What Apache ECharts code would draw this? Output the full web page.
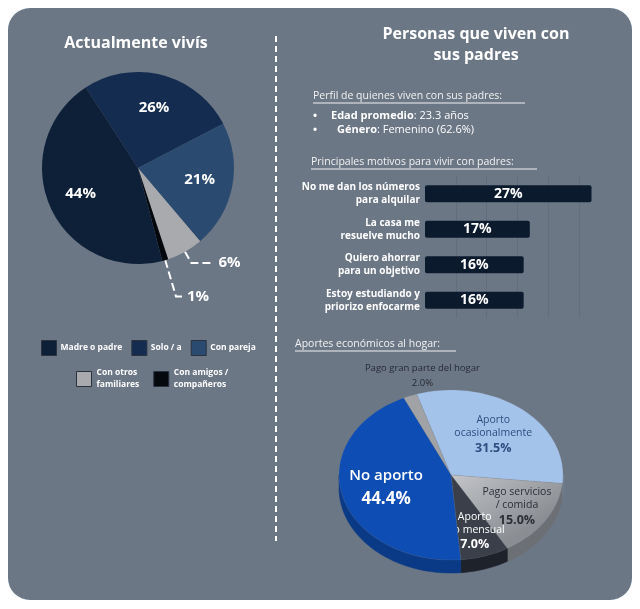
<!DOCTYPE html>
<html><head><meta charset="utf-8">
<script src="https://cdn.jsdelivr.net/npm/echarts@6/dist/echarts.min.js"></script>
<style>html,body{margin:0;padding:0;background:#ffffff}#c{width:640px;height:609px}</style>
</head><body><div id="c"></div>
<script>
// ---------- DATA ----------
const livingNames = ['Solo / a', 'Con pareja', 'Con otros familiares', 'Con amigos / compañeros', 'Madre o padre'];
const livingValues = [26, 21, 6, 1, 44];
const legendRow1 = ['Madre o padre', 'Solo / a', 'Con pareja'];
const legendRow2 = ['Con otros familiares', 'Con amigos / compañeros'];
const legendRow2Text = ['Con otros\nfamiliares', 'Con amigos /\ncompañeros'];

const reasonLabels = ['No me dan los números\npara alquilar', 'La casa me\nresuelve mucho', 'Quiero ahorrar\npara un objetivo', 'Estoy estudiando y\npriorizo enfocarme'];
const reasonValues = [27, 17, 16, 16];

const contribNames = ['Pago gran parte del hogar', 'Aporto ocasionalmente', 'Pago servicios / comida', 'Aporto fijo mensual', 'No aporto'];
const contribLabelText = ['Pago gran parte del hogar', 'Aporto\nocasionalmente', 'Pago servicios\n/ comida', 'Aporto\nfijo mensual', 'No aporto'];
const contribValues = [2.0, 31.5, 15.0, 7.0, 44.4];

const profileAge = '23.3 años';
const profileGender = 'Femenino (62.6%)';

// ---------- STYLE ----------
const FONT = '"Open Sans", "Noto Sans", sans-serif';
const livingColors = ['#142c4f', '#2a4a70', '#a8aaad', '#05080c', '#0e2038'];
const contribTop = ['#a0a2a6', '#a4c3ea',
  {type: 'linear', x: 0, y: 0, x2: 0.4, y2: 1, colorStops: [{offset: 0, color: '#c3c5c9'}, {offset: 1, color: '#8a8d92'}]},
  '#3a3f4a', '#0e4db3'];
const contribSide = ['#7d8085', '#7f9cc2', '#6c6f74', '#1e222a', '#0a3a86'];
const contribTextColor = ['#252a33', '#2d4f80', '#2b2f36', '#ffffff', '#ffffff'];
const P3 = {cx: 451, cy: 475, rx: 112, ry: 85, depth: 13, start: 115};

const contribTotal = contribValues.reduce((a, b) => a + b, 0);
function ept(t, dy) {
  const r = t * Math.PI / 180;
  return [P3.cx + P3.rx * Math.cos(r), P3.cy - P3.ry * Math.sin(r) + (dy || 0)];
}
function arc(a0, a1, dy) {
  const pts = [];
  const n = Math.max(2, Math.ceil(Math.abs(a0 - a1) / 2));
  for (let i = 0; i <= n; i++) pts.push(ept(a0 + (a1 - a0) * i / n, dy));
  return pts;
}

const chart = echarts.init(document.getElementById('c'), null, {renderer: 'canvas'});

const option = {
  backgroundColor: '#ffffff',
  animation: false,
  textStyle: {fontFamily: FONT},
  graphic: [
    {type: 'rect', z: -10, silent: true, shape: {x: 8, y: 8, width: 624, height: 592, r: 22}, style: {fill: '#6c7786'}},
    {type: 'line', silent: true, shape: {x1: 276, y1: 36, x2: 276, y2: 541}, style: {stroke: '#ffffff', lineWidth: 2, lineDash: [6, 4]}},
    {type: 'text', silent: true, x: 136, y: 43, style: {text: 'Actualmente vivís', font: 'bold 16px ' + FONT, fill: '#ffffff', align: 'center', verticalAlign: 'middle'}},
    {type: 'text', silent: true, x: 476, y: 45, style: {text: 'Personas que viven con\nsus padres', font: 'bold 16px ' + FONT, lineHeight: 21, fill: '#ffffff', align: 'center', verticalAlign: 'middle'}},
    {type: 'text', silent: true, x: 313, y: 96, style: {text: 'Perfil de quienes viven con sus padres:', font: '10.5px ' + FONT, fill: '#f2f2f2', verticalAlign: 'middle'}},
    {type: 'line', silent: true, shape: {x1: 313, y1: 103, x2: 525, y2: 103}, style: {stroke: '#f2f2f2', lineWidth: 1}},
    {type: 'text', silent: true, x: 313, y: 116, style: {text: '•', font: 'bold 11px ' + FONT, fill: '#ffffff', verticalAlign: 'middle'}},
    {type: 'text', silent: true, x: 331, y: 116, style: {text: '{b|Edad promedio}: ' + profileAge, font: '11px ' + FONT, fill: '#ffffff', verticalAlign: 'middle',
      rich: {b: {fontWeight: 'bold', fontSize: 11, fill: '#ffffff', fontFamily: FONT}}}},
    {type: 'text', silent: true, x: 313, y: 130, style: {text: '•', font: 'bold 11px ' + FONT, fill: '#ffffff', verticalAlign: 'middle'}},
    {type: 'text', silent: true, x: 337, y: 130, style: {text: '{b|Género}: ' + profileGender, font: '11px ' + FONT, fill: '#ffffff', verticalAlign: 'middle',
      rich: {b: {fontWeight: 'bold', fontSize: 11, fill: '#ffffff', fontFamily: FONT}}}},
    {type: 'text', silent: true, x: 311, y: 162, style: {text: 'Principales motivos para vivir con padres:', font: '10.5px ' + FONT, fill: '#f2f2f2', verticalAlign: 'middle'}},
    {type: 'line', silent: true, shape: {x1: 311, y1: 169, x2: 537, y2: 169}, style: {stroke: '#f2f2f2', lineWidth: 1}},
    {type: 'text', silent: true, x: 295, y: 344, style: {text: 'Aportes económicos al hogar:', font: '10.5px ' + FONT, fill: '#f2f2f2', verticalAlign: 'middle'}},
    {type: 'line', silent: true, shape: {x1: 295, y1: 351, x2: 456, y2: 351}, style: {stroke: '#f2f2f2', lineWidth: 1}}
  ],
  legend: [
    {data: legendRow1, left: 36, top: 335, orient: 'horizontal', icon: 'rect', itemWidth: 15, itemHeight: 15, itemGap: 9,
      itemStyle: {borderColor: '#2a3240', borderWidth: 1},
      textStyle: {color: '#ffffff', fontSize: 8.5, fontWeight: 'bold', fontFamily: FONT, padding: [0, 0, 0, -1]}},
    {data: legendRow2, left: 71, top: 362, orient: 'horizontal', icon: 'rect', itemWidth: 15, itemHeight: 15, itemGap: 14,
      itemStyle: {borderColor: '#2a3240', borderWidth: 1},
      formatter: function (n) { return legendRow2Text[legendRow2.indexOf(n)]; },
      textStyle: {color: '#ffffff', fontSize: 8.5, fontWeight: 'bold', lineHeight: 12, fontFamily: FONT}}
  ],
  grid: {left: 425, top: 176, width: 185, height: 142},
  xAxis: {type: 'value', min: 0, max: 30, interval: 5,
    axisLabel: {show: false}, axisLine: {show: false}, axisTick: {show: false},
    splitLine: {show: true, lineStyle: {width: 1, color: ['rgba(0,0,0,0)', '#626e7d', '#626e7d', '#626e7d', '#626e7d', '#626e7d', 'rgba(0,0,0,0)']}}},
  yAxis: {type: 'category', data: reasonLabels, inverse: true,
    axisLine: {show: false}, axisTick: {show: false},
    axisLabel: {color: '#ffffff', fontSize: 10, fontWeight: 'bold', lineHeight: 13, margin: 5, fontFamily: FONT, align: 'right'}},
  series: [
    {
      type: 'pie', name: 'Actualmente vivís', center: [138, 168], radius: 96, startAngle: 123, clockwise: true,
      avoidLabelOverlap: false, silent: true,
      data: livingNames.map((n, i) => {
        const d = {name: n, value: livingValues[i], itemStyle: {color: livingColors[i]}};
        if (livingValues[i] < 10) {
          d.label = {position: 'outside'};
          d.labelLine = {show: true, length: i === 3 ? 38 : 13, length2: i === 3 ? 6 : 22};
        }
        return d;
      }),
      label: {show: true, position: 'inside', formatter: '{c}%', color: '#ffffff', fontSize: 15, fontWeight: 'bold', fontFamily: FONT},
      labelLine: {show: false, lineStyle: {color: '#ffffff', type: 'dashed', width: 2}},
      labelLayout: function (p) {
        if (livingValues[p.dataIndex] < 10) return {};
        const lx = p.labelRect.x + p.labelRect.width / 2, ly = p.labelRect.y + p.labelRect.height / 2;
        return {dx: (lx - 138) * 0.23, dy: (ly - 168) * 0.23};
      }
    },
    {
      type: 'bar', data: reasonValues, barWidth: 17, silent: true,
      itemStyle: {color: '#0c1a2e', borderRadius: 2},
      label: {show: true, position: 'inside', formatter: '{c}%', color: '#ffffff', fontSize: 14, fontWeight: 'bold', fontFamily: FONT}
    },
    {
      type: 'custom', coordinateSystem: 'none', silent: true,
      data: contribValues.map((v, i) => ({name: contribNames[i], value: v})),
      renderItem: function (params, api) {
        const i = params.dataIndex;
        let before = 0;
        for (let k = 0; k < i; k++) before += contribValues[k];
        const a0 = P3.start - before / contribTotal * 360;
        const a1 = a0 - contribValues[i] / contribTotal * 360;
        const children = [];
        for (const k of [1, 0, -1]) {
          const lo = Math.max(a1, -180 + 360 * k), hi = Math.min(a0, 360 * k);
          if (hi > lo) {
            const top = arc(hi, lo, 0);
            const bot = arc(lo, hi, P3.depth);
            children.push({type: 'polygon', shape: {points: top.concat(bot)}, style: {fill: contribSide[i], stroke: contribSide[i], lineWidth: 0.5}});
          }
        }
        children.push({type: 'polygon', shape: {points: [[P3.cx, P3.cy]].concat(arc(a0, a1, 0))},
          style: {fill: contribTop[i], stroke: 'rgba(120,125,135,0.35)', lineWidth: 0.5}});
        const mid = (a0 + a1) / 2;
        const share = contribValues[i] / contribTotal;
        const small = share < 0.05;
        const big = share > 0.4;
        const fx = small ? 0.7 : (big ? 0.6 : (share < 0.25 ? 0.7 : 0.6));
        const fy = small ? 1.24 : fx;
        const p = [P3.cx + P3.rx * fx * Math.cos(mid * Math.PI / 180), P3.cy - P3.ry * fy * Math.sin(mid * Math.PI / 180)];
        const nameSize = small ? 9.5 : (big ? 15 : 10.5);
        const pctSize = small ? 9.5 : (big ? 17 : 12.5);
        children.push({type: 'text', x: p[0], y: p[1], style: {
          text: contribLabelText[i] + '\n{p|' + contribValues[i].toFixed(1) + '%}',
          fill: contribTextColor[i], align: 'center', verticalAlign: 'middle',
          font: (big ? '600 ' : 'normal ') + nameSize + 'px ' + FONT, lineHeight: big ? 22 : 13,
          rich: {p: {fontSize: pctSize, fontWeight: small ? 'normal' : 'bold', fill: contribTextColor[i], fontFamily: FONT, lineHeight: big ? 24 : 17}}
        }});
        return {type: 'group', children: children};
      }
    }
  ]
};
chart.setOption(option);
</script>
</body></html>
